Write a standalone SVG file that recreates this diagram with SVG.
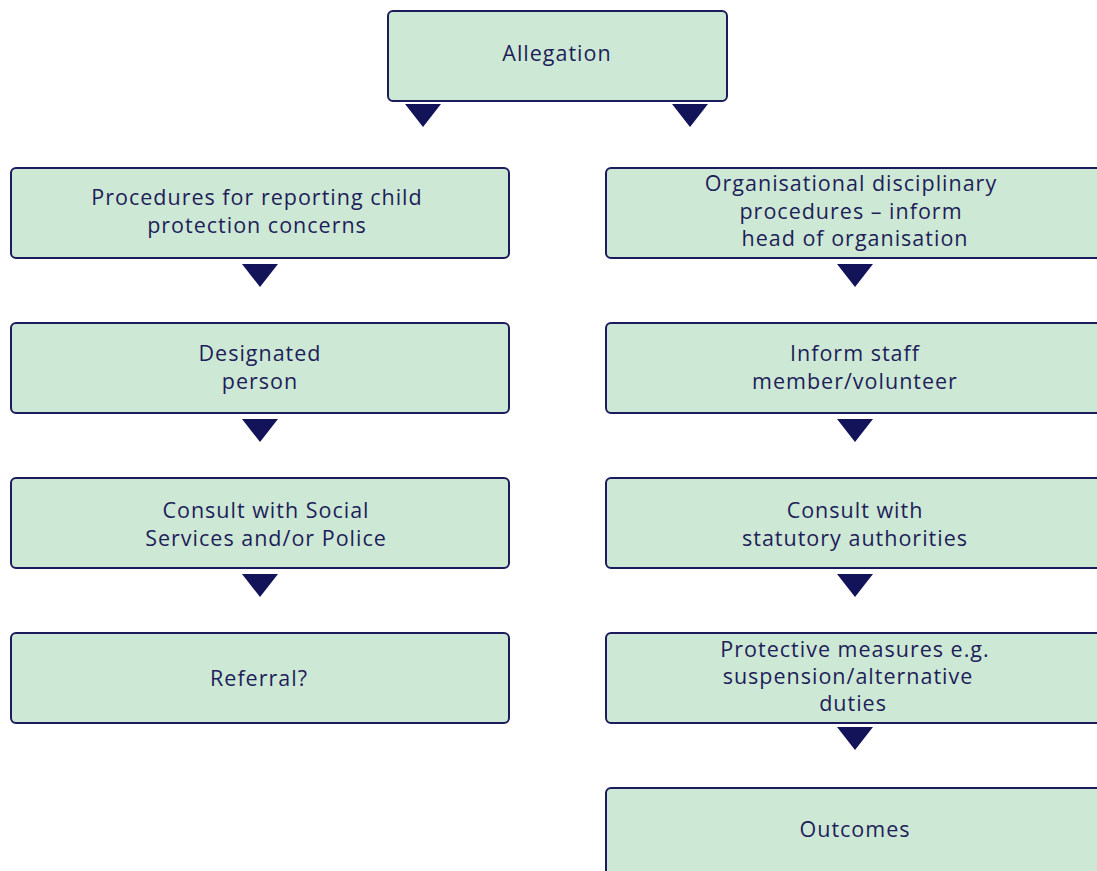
<svg xmlns="http://www.w3.org/2000/svg" width="1097" height="871" viewBox="0 0 1097 871">
<style>
.box{fill:#cde8d4;stroke:#1c1c5c;stroke-width:2}
.t{font-family:"Open Sans","Liberation Sans",Arial,sans-serif;font-size:21.5px;letter-spacing:1px;fill:#1e1e5a;text-anchor:middle}
.arr{fill:#13135a}
</style>
<rect width="1097" height="871" fill="#ffffff"/>
<g id="allegation"><rect class="box" x="388" y="11" width="339" height="90" rx="5"/><text class="t" x="557" y="61">Allegation</text></g>
<g id="procedures"><rect class="box" x="11" y="168" width="498" height="90" rx="5"/><text class="t" x="257" y="205">Procedures for reporting child</text><text class="t" x="257" y="233">protection concerns</text></g>
<g id="designated"><rect class="box" x="11" y="323" width="498" height="90" rx="5"/><text class="t" x="260" y="361">Designated</text><text class="t" x="260" y="389">person</text></g>
<g id="consult-social"><rect class="box" x="11" y="478" width="498" height="90" rx="5"/><text class="t" x="266" y="518">Consult with Social</text><text class="t" x="266" y="546">Services and/or Police</text></g>
<g id="referral"><rect class="box" x="11" y="633" width="498" height="90" rx="5"/><text class="t" x="259" y="686">Referral?</text></g>
<g id="organisational"><rect class="box" x="606" y="168" width="500" height="90" rx="5"/><text class="t" x="851" y="191">Organisational disciplinary</text><text class="t" x="851" y="219">procedures – inform</text><text class="t" x="855" y="246">head of organisation</text></g>
<g id="inform-staff"><rect class="box" x="606" y="323" width="500" height="90" rx="5"/><text class="t" x="855" y="361">Inform staff</text><text class="t" x="855" y="389">member/volunteer</text></g>
<g id="consult-statutory"><rect class="box" x="606" y="478" width="500" height="90" rx="5"/><text class="t" x="855" y="518">Consult with</text><text class="t" x="855" y="546">statutory authorities</text></g>
<g id="protective"><rect class="box" x="606" y="633" width="500" height="90" rx="5"/><text class="t" x="855" y="657">Protective measures e.g.</text><text class="t" x="848" y="684">suspension/alternative</text><text class="t" x="853" y="711">duties</text></g>
<g id="outcomes"><rect class="box" x="606" y="788" width="500" height="100" rx="5"/><text class="t" x="855" y="837">Outcomes</text></g>
<g id="connectors">
<polygon class="arr" points="405,104 441,104 423,127"/>
<polygon class="arr" points="672,104 708,104 690,127"/>
<polygon class="arr" points="242,264 278,264 260,287"/>
<polygon class="arr" points="242,419 278,419 260,442"/>
<polygon class="arr" points="242,574 278,574 260,597"/>
<polygon class="arr" points="837,264 873,264 855,287"/>
<polygon class="arr" points="837,419 873,419 855,442"/>
<polygon class="arr" points="837,574 873,574 855,597"/>
<polygon class="arr" points="837,727 873,727 855,750"/>
</g>
</svg>
